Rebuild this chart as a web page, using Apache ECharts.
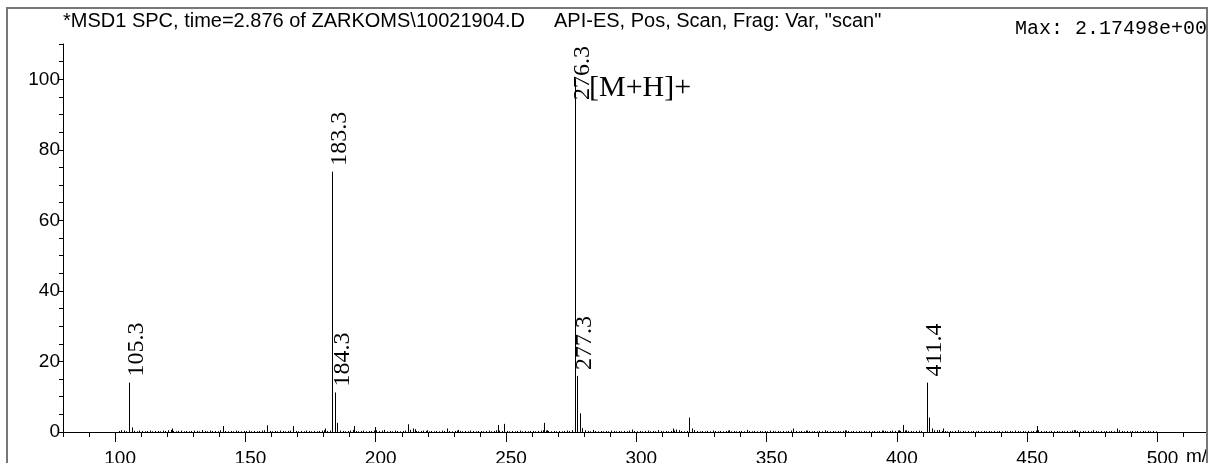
<!DOCTYPE html>
<html>
<head>
<meta charset="utf-8">
<script src="https://cdn.jsdelivr.net/npm/echarts@6/dist/echarts.min.js"></script>
<style>
  html, body { margin: 0; padding: 0; background: #fff; }
  #chart { width: 1212px; height: 463px; }
</style>
</head>
<body>
<div id="chart"></div>
<script>
// ---- spectrum header text ----
const titleLeft = '*MSD1 SPC, time=2.876 of ZARKOMS\\10021904.D';
const titleRight = 'API-ES, Pos, Scan, Frag: Var, "scan"';
const maxNote = 'Max: 2.17498e+00';
const ionNote = '[M+H]+';
const xUnit = 'm/z';

// ---- axis labels ----
const xLabelValues = [100, 150, 200, 250, 300, 350, 400, 450, 500];
const yLabelValues = [0, 20, 40, 60, 80, 100];

// ---- labelled ions (m/z, relative abundance %) ----
const labeledMz    = [105.3, 183.3, 184.3, 276.3, 277.3, 411.4];
const labeledAbund = [14.0,  73.8,  11.2,  100.0, 15.9,  14.0];

// ---- smaller, unlabelled ions ----
const minorMz = [
  102.3, 106.3, 121.7, 133.4, 141.3, 158.2, 168.4, 180.6, 185.3, 191.5,
  199.8, 203.2, 212.2, 214.2, 215.1, 219.6, 227.3, 231.4, 247.1, 249.4,
  264.4, 265.7, 278.3, 279.3, 283.5, 298.3, 308.3, 314.2, 315.4, 316.3,
  320.4, 321.4, 322.2, 335.4, 342.4, 360.3, 365.4, 372.4, 380.1, 394.8,
  400.9, 402.5, 403.5, 412.4, 413.5, 415.5, 417.6, 423.6, 453.7, 467.8,
  475.4, 484.4
];
const minorAbund = [
  0.5, 1.3, 1.0, 0.5, 1.7, 1.9, 1.7, 1.0, 2.6, 1.7,
  1.4, 0.6, 2.2, 1.0, 0.8, 0.5, 1.0, 0.6, 2.0, 2.3,
  2.6, 0.5, 5.3, 1.1, 0.6, 0.7, 0.5, 1.0, 0.7, 0.5,
  4.1, 1.0, 0.5, 0.5, 0.6, 1.0, 0.4, 0.4, 0.5, 0.4,
  0.5, 2.0, 0.5, 4.1, 1.0, 0.5, 1.0, 0.5, 1.7, 0.5,
  0.5, 1.0
];

// ---- baseline noise, one value per nominal mass from baseStart ----
const baseStart = 101;
const baseLevels = [
  0.3,0.2,0.4,0.2,0.3,0.2,0.3,0.2,0.4,0.3,0.2,0.3,0.4,0.2,0.3,0.3,0.2,0.4,0.3,0.5,
  0.6,0.3,0.2,0.3,0.4,0.2,0.3,0.2,0.3,0.4,0.3,0.2,0.5,0.3,0.2,0.4,0.3,0.3,0.2,0.5,
  0.4,0.3,0.2,0.3,0.2,0.4,0.3,0.2,0.3,0.3,0.4,0.2,0.3,0.2,0.3,0.4,0.5,0.6,0.3,0.2,
  0.3,0.2,0.4,0.3,0.2,0.3,0.4,0.5,0.3,0.2,0.3,0.2,0.4,0.3,0.2,0.3,0.2,0.3,0.4,0.5,
  0.3,0.4,0.0,0.0,0.5,0.4,0.3,0.2,0.3,0.4,0.6,0.3,0.2,0.3,0.4,0.2,0.3,0.3,0.4,0.5,
  0.3,0.4,0.3,0.2,0.3,0.2,0.4,0.3,0.2,0.3,0.4,0.5,0.6,0.4,0.3,0.2,0.3,0.4,0.3,0.2,
  0.3,0.2,0.3,0.2,0.4,0.3,0.5,0.3,0.2,0.3,0.4,0.3,0.2,0.3,0.2,0.4,0.3,0.2,0.3,0.3,
  0.2,0.3,0.4,0.2,0.3,0.5,0.4,0.3,0.5,0.3,0.2,0.3,0.2,0.3,0.4,0.2,0.3,0.2,0.3,0.3,
  0.2,0.3,0.4,0.5,0.4,0.3,0.2,0.3,0.2,0.3,0.2,0.3,0.4,0.3,0.5,0.0,0.0,0.0,0.4,0.5,
  0.3,0.2,0.4,0.3,0.2,0.3,0.2,0.3,0.2,0.4,0.3,0.2,0.3,0.2,0.3,0.2,0.4,0.5,0.3,0.2,
  0.3,0.2,0.3,0.4,0.2,0.3,0.2,0.4,0.3,0.2,0.3,0.2,0.3,0.4,0.5,0.4,0.3,0.2,0.3,0.0,
  0.5,0.4,0.3,0.2,0.3,0.2,0.3,0.2,0.4,0.3,0.2,0.3,0.2,0.3,0.4,0.2,0.3,0.2,0.3,0.3,
  0.2,0.4,0.3,0.2,0.3,0.2,0.3,0.2,0.3,0.2,0.4,0.3,0.2,0.3,0.2,0.3,0.2,0.3,0.4,0.5,
  0.3,0.2,0.3,0.2,0.4,0.3,0.2,0.3,0.2,0.3,0.2,0.4,0.3,0.2,0.3,0.2,0.3,0.2,0.3,0.4,
  0.3,0.2,0.3,0.2,0.3,0.2,0.3,0.2,0.3,0.2,0.3,0.2,0.3,0.4,0.3,0.2,0.3,0.4,0.3,0.4,
  0.3,0.5,0.4,0.3,0.3,0.2,0.3,0.4,0.3,0.0,0.0,0.0,0.0,0.5,0.4,0.6,0.3,0.3,0.2,0.3,
  0.2,0.3,0.4,0.2,0.3,0.2,0.3,0.2,0.3,0.2,0.3,0.2,0.3,0.2,0.3,0.2,0.3,0.2,0.3,0.2,
  0.3,0.2,0.3,0.2,0.4,0.3,0.2,0.3,0.2,0.3,0.2,0.3,0.4,0.5,0.3,0.2,0.3,0.2,0.3,0.2,
  0.3,0.2,0.3,0.2,0.3,0.2,0.4,0.5,0.3,0.2,0.3,0.2,0.3,0.2,0.4,0.3,0.2,0.3,0.2,0.3,
  0.2,0.3,0.2,0.4,0.5,0.3,0.2,0.3,0.2,0.3,0.2,0.3,0.2,0.3,0.2,0.3,0.2,0.3,0.2
];

// ---- build stick data ----
const stickData = [];
baseLevels.forEach((v, i) => { if (v > 0) stickData.push([baseStart + i + 0.3, v]); });
minorMz.forEach((m, i) => stickData.push([m, minorAbund[i]]));
labeledMz.forEach((m, i) => stickData.push([m, labeledAbund[i]]));

const SANS = '"Liberation Sans", Arial, sans-serif';
const SERIF = '"Liberation Serif", "Times New Roman", serif';
const MONO = '"Liberation Mono", "Courier New", monospace';
const PEAK_FONT = '24px ' + SERIF;

const measureCtx = document.createElement('canvas').getContext('2d');
function textWidth(str, font) {
  measureCtx.font = font;
  return measureCtx.measureText(str).width;
}

const chart = echarts.init(document.getElementById('chart'), null, { renderer: 'canvas' });

chart.setOption({
  animation: false,
  backgroundColor: '#fff',
  grid: { left: 63, right: 5, top: 44, bottom: 31, containLabel: false, outerBoundsMode: 'none' },
  xAxis: [
    {
      type: 'value', min: 80, max: 519, interval: 10,
      axisLine: { show: true, lineStyle: { color: '#000', width: 1 } },
      axisTick: { show: true, length: 5, lineStyle: { color: '#000', width: 1 } },
      axisLabel: { show: false },
      splitLine: { show: false }
    },
    {
      type: 'value', min: 80, max: 519, position: 'bottom', offset: 0,
      axisLine: { show: false },
      axisTick: { show: true, length: 10, customValues: xLabelValues, lineStyle: { color: '#000', width: 1 } },
      axisLabel: {
        show: true, customValues: xLabelValues, margin: 17,
        color: '#000', fontFamily: SANS, fontSize: 19, padding: [0, 0, 0, 10]
      },
      splitLine: { show: false }
    }
  ],
  yAxis: {
    type: 'value', min: 0, max: 110, interval: 5,
    axisLine: { show: true, lineStyle: { color: '#000', width: 1 } },
    axisTick: { show: true, length: 4, lineStyle: { color: '#000', width: 1 } },
    axisLabel: {
      margin: 3, color: '#000', fontFamily: SANS, fontSize: 19,
      formatter: v => (yLabelValues.indexOf(v) >= 0 ? String(v) : '')
    },
    splitLine: { show: false }
  },
  series: [
    {
      name: 'sticks',
      type: 'custom',
      xAxisIndex: 0,
      clip: false,
      data: stickData,
      renderItem(params, api) {
        const m = api.value(0), v = api.value(1);
        const base = api.coord([m, 0]);
        const top = api.coord([m, v]);
        const x = Math.round(base[0]) + 0.5;
        return {
          type: 'line',
          shape: { x1: x, y1: base[1], x2: x, y2: top[1] },
          style: { stroke: '#000', lineWidth: 1 }
        };
      }
    }
  ]
});

// ---- peak labels: rotated m/z text placed above each labelled stick ----
const toPx = (m, v) => chart.convertToPixel({ xAxisIndex: 0, yAxisIndex: 0 }, [m, v]);
const plotTop = toPx(80, 110)[1];
const peakLabels = labeledMz.map((m, i) => {
  const p = toPx(m, labeledAbund[i]);
  const txt = m.toFixed(1);
  const len = textWidth(txt, PEAK_FONT);
  // keep the label inside the plot: slide it down along the stick if needed
  const y = Math.max(p[1] - 6, plotTop + 2 + len);
  return {
    type: 'text', z: 10,
    x: Math.round(p[0]) + 7.5, y: y,
    rotation: Math.PI / 2,
    style: { text: txt, font: PEAK_FONT, fill: '#000', align: 'left', verticalAlign: 'middle' }
  };
});

chart.setOption({
  graphic: peakLabels.concat([
    {
      type: 'text', left: 63, top: 11, z: 10,
      style: { text: titleLeft, font: '20px ' + SANS, fill: '#000' }
    },
    {
      type: 'text', left: 554, top: 11, z: 10,
      style: { text: titleRight, font: '20px ' + SANS, fill: '#000' }
    },
    {
      type: 'text', left: 1015, top: 19, z: 10,
      style: { text: maxNote, font: '20px ' + MONO, fill: '#000' }
    },
    {
      type: 'text', left: 589, top: 73, z: 10,
      style: { text: ionNote, font: '30px ' + SERIF, fill: '#000' }
    },
    {
      type: 'text', left: 1186, top: 447, z: 10,
      style: { text: xUnit, font: '19px ' + SANS, fill: '#000' }
    },
    {
      type: 'rect', z: 20,
      shape: { x: 1208, y: 0, width: 10, height: 463 },
      style: { fill: '#fff' }
    },
    {
      type: 'polyline', z: 30,
      shape: { points: [[7, 470], [7, 8], [1207, 8], [1207, 470]] },
      style: { stroke: '#777', lineWidth: 2, fill: null }
    }
  ])
});
</script>
</body>
</html>
